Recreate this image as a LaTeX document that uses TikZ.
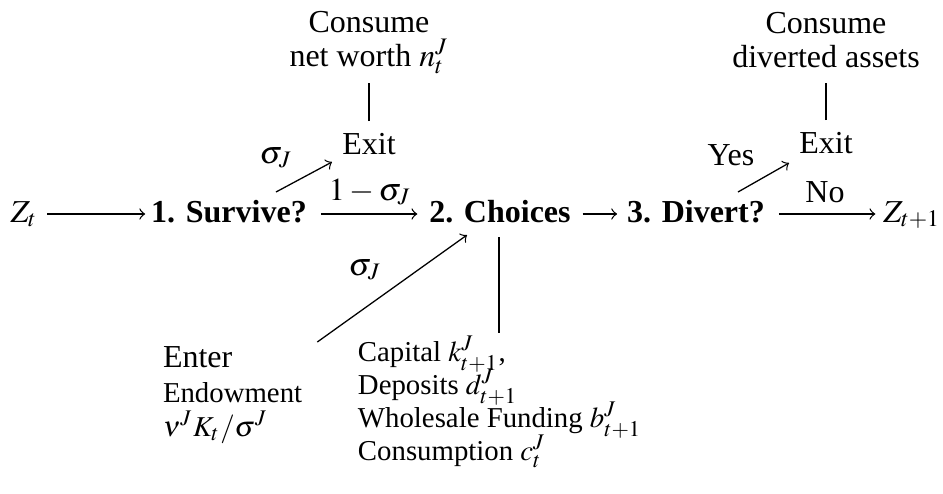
\documentclass[tikz,border=0pt]{standalone}
\usepackage{mathptmx}
\usepackage[no-math]{fontspec}
\setmainfont{Liberation Serif}
\usetikzlibrary{calc}
\begin{document}
\begin{tikzpicture}[x=0.3125pt,y=-0.3125pt,>=to,
  txt/.style={inner sep=0pt, outer sep=0pt, anchor=base},
  lbl/.style={inner sep=0pt, outer sep=0pt, anchor=base},
  blk/.style={inner sep=0pt, outer sep=0pt, align=left, anchor=base west,
    font={\small\setlength{\baselineskip}{10.3pt}\setlength{\lineskiplimit}{-6pt}}},
  conn/.style={line width=0.4pt}]
\useasboundingbox (0,0) rectangle (943,493);
% main row
\node[txt] (z)  at (24,222)  {$Z_t$};
\node[txt] (s)  at (229,222) {\textbf{1. Survive?}};
\node[txt] (c)  at (500,222) {\textbf{2. Choices}};
\node[txt] (d)  at (696,222) {\textbf{3. Divert?}};
\node[txt] (z1) at (912,222) {$Z_{t+1}$};
% exits
\node[txt] (e1) at (369,154) {Exit};
\node[txt] (e2) at (826,153) {Exit};
\node[txt, align=center] (c1) at (369,66) {Consume\\[-1.5pt]net worth $n_t^J$};
\node[txt, align=center] (c2) at (826,67) {Consume\\[-1.5pt]diverted assets};
% bottom blocks
\node[blk, font=\normalsize] (en) at (163,367) {Enter};
\node[blk, font={\small\setlength{\baselineskip}{10.5pt}}] (ed) at (163,436) {Endowment\\$\nu^J K_t/\sigma^J$};
\node[blk] (ch) at (358,460) {Capital $k_{t+1}^J$,\\Deposits $d_{t+1}^J$\\Wholesale Funding $b_{t+1}^J$\\Consumption $c_t^J$};
% labels
\node[lbl] (l1) at (276,163) {$\sigma_J$};
\node[lbl] (l2) at (370,200) {$1-\sigma_J$};
\node[lbl] (l3) at (365,275) {$\sigma_J$};
\node[lbl] (l4) at (731,165) {Yes};
\node[lbl] (l5) at (825,202) {No};
% arrows main row
\draw[conn,->] ($(z.base east)+(10,-8)$) -- ($(s.base west)+(-6,-8)$);
\draw[conn,->] ($(s.base east)+(14,-8)$) -- ($(c.base west)+(-12,-8)$);
\draw[conn,->] ($(c.base east)+(12,-8)$) -- ($(d.base west)+(-10,-8)$);
\draw[conn,->] ($(d.base east)+(14,-8)$) -- ($(z1.base west)+(-8,-8)$);
% exit arrows
\draw[conn,->] ($(s.base)+(47,-30)$) -- ($(e1.base)+(-37,8)$);
\draw[conn,->] ($(d.base)+(42,-30)$) -- ($(e2.base)+(-37,10)$);
\draw[conn] ($(e1.base)+(0,-33)$) -- ($(c1.base)+(0,17)$);
\draw[conn] ($(e2.base)+(0,-33)$) -- ($(c2.base)+(0,16)$);
% enter arrow and choices line
\draw[conn,->] ($(en.base east)+(85,-25)$) -- ($(c.base)+(-33,13)$);
\draw[conn] ($(c.base)+(-1,15)$) -- ($(c.base)+(-1,111)$);
\end{tikzpicture}
\end{document}
